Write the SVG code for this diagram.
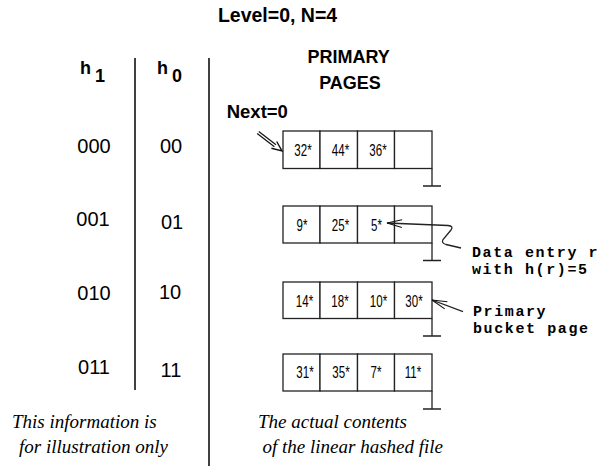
<svg xmlns="http://www.w3.org/2000/svg" width="604" height="466" viewBox="0 0 604 466">
<style>
.b{font-family:"Liberation Sans",Arial,sans-serif;font-weight:bold;fill:#000}
.r{font-family:"Liberation Sans",Arial,sans-serif;font-size:20px;fill:#000;text-anchor:middle}
.c{font-family:"Liberation Sans",Arial,sans-serif;font-size:16px;fill:#000;text-anchor:middle}
.i{font-family:"Liberation Serif","Times New Roman",serif;font-style:italic;font-size:19px;fill:#000}
.m{font-family:"Liberation Mono","Courier New",monospace;font-weight:bold;font-size:15px;letter-spacing:1.6px;fill:#000}
.cell{fill:#fff;stroke:#222;stroke-width:1.3}
.ln{stroke:#222;stroke-width:1.3;fill:none}
.sep{stroke:#111;stroke-width:1.6}
</style>
<defs>
<marker id="open" viewBox="-16 -6 18 12" refX="0" refY="0" markerWidth="18" markerHeight="12" markerUnits="userSpaceOnUse" orient="auto" overflow="visible">
<path d="M-15,-3.8 L0,0 L-15,3.8" fill="none" stroke="#111" stroke-width="1.1"/>
</marker>
</defs>

<text class="b" x="277.5" y="22" font-size="19.5" text-anchor="middle">Level=0, N=4</text>

<g id="h-columns">
<text class="b" x="80" y="74" font-size="18">h</text>
<text class="b" x="95" y="82" font-size="18">1</text>
<text class="b" x="157" y="74" font-size="18">h</text>
<text class="b" x="172" y="82" font-size="18">0</text>
<line class="sep" x1="135" y1="58" x2="135" y2="390"/>
<line class="sep" x1="209" y1="58" x2="209" y2="466"/>
<text class="r" x="94" y="153">000</text>
<text class="r" x="171" y="153">00</text>
<text class="r" x="93" y="226">001</text>
<text class="r" x="172" y="229">01</text>
<text class="r" x="94" y="300">010</text>
<text class="r" x="170" y="299">10</text>
<text class="r" x="94" y="374">011</text>
<text class="r" x="171" y="377">11</text>
</g>

<text class="b" x="348.7" y="63" font-size="18" text-anchor="middle">PRIMARY</text>
<text class="b" x="350" y="89" font-size="18" text-anchor="middle">PAGES</text>
<text class="b" x="226.7" y="118" font-size="18.5">Next=0</text>

<g id="bucket0">
<rect class="cell" x="283" y="131" width="37" height="37.5"/>
<rect class="cell" x="320" y="131" width="37.5" height="37.5"/>
<rect class="cell" x="357.5" y="131" width="37" height="37.5"/>
<rect class="cell" x="394.5" y="131" width="37.5" height="37.5"/>
<text class="c" transform="translate(303,156) scale(0.72,1)">32*</text>
<text class="c" transform="translate(340.5,156) scale(0.72,1)">44*</text>
<text class="c" transform="translate(378,156) scale(0.72,1)">36*</text>
<path class="ln" d="M432,168.5 V186 M423,186 H441"/>
</g>

<g id="bucket1">
<rect class="cell" x="283" y="206" width="37" height="37"/>
<rect class="cell" x="320" y="206" width="37.5" height="37"/>
<rect class="cell" x="357.5" y="206" width="37" height="37"/>
<rect class="cell" x="394.5" y="206" width="37.5" height="37"/>
<text class="c" transform="translate(302,230.5) scale(0.72,1)">9*</text>
<text class="c" transform="translate(340.5,230.5) scale(0.72,1)">25*</text>
<text class="c" transform="translate(376.5,230.5) scale(0.72,1)">5*</text>
<path class="ln" d="M432,243 V260.5 M423,260.5 H441"/>
</g>

<g id="bucket2">
<rect class="cell" x="283" y="282" width="37" height="36.5"/>
<rect class="cell" x="320" y="282" width="37.5" height="36.5"/>
<rect class="cell" x="357.5" y="282" width="37" height="36.5"/>
<rect class="cell" x="394.5" y="282" width="37.5" height="36.5"/>
<text class="c" transform="translate(304.5,306.5) scale(0.72,1)">14*</text>
<text class="c" transform="translate(340,306.5) scale(0.72,1)">18*</text>
<text class="c" transform="translate(378.5,306.5) scale(0.72,1)">10*</text>
<text class="c" transform="translate(414,306.5) scale(0.72,1)">30*</text>
<path class="ln" d="M432,318.5 V336 M423,336 H441"/>
</g>

<g id="bucket3">
<rect class="cell" x="283" y="354" width="37" height="37"/>
<rect class="cell" x="320" y="354" width="37.5" height="37"/>
<rect class="cell" x="357.5" y="354" width="37" height="37"/>
<rect class="cell" x="394.5" y="354" width="37.5" height="37"/>
<text class="c" transform="translate(305,377.5) scale(0.72,1)">31*</text>
<text class="c" transform="translate(341,377.5) scale(0.72,1)">35*</text>
<text class="c" transform="translate(376,377.5) scale(0.72,1)">7*</text>
<text class="c" transform="translate(413,377.5) scale(0.72,1)">11*</text>
<path class="ln" d="M432,391 V409 M423,409 H441"/>
</g>

<g id="connectors">
<g id="next-arrow" stroke="#111" fill="none" stroke-width="1.2">
<line x1="258.8" y1="131.5" x2="276" y2="144.7"/>
<line x1="257.2" y1="133.6" x2="274.4" y2="146.8"/>
<path d="M271.4,148.3 L282,151 L276.7,141.5" stroke-width="1.4"/>
</g>
<path class="ln" stroke-width="1.1" d="M461,248 L446,244.5 Q441,243 443,239.5 L451,230 Q454,226 448,225.5 L387,223" marker-end="url(#open)"/>
<path class="ln" stroke-width="1.1" d="M463,311.7 L432,300" marker-end="url(#open)"/>
</g>

<g id="notes">
<text class="m" x="472" y="256.5">Data entry r</text>
<text class="m" x="472" y="274">with h(r)=5</text>
<text class="m" x="473" y="315.5">Primary</text>
<text class="m" x="473" y="333">bucket page</text>
<text class="i" x="12" y="428">This information is</text>
<text class="i" x="19" y="453">for illustration only</text>
<text class="i" x="258" y="428">The actual contents</text>
<text class="i" x="262.5" y="453">of the linear hashed file</text>
</g>
</svg>
